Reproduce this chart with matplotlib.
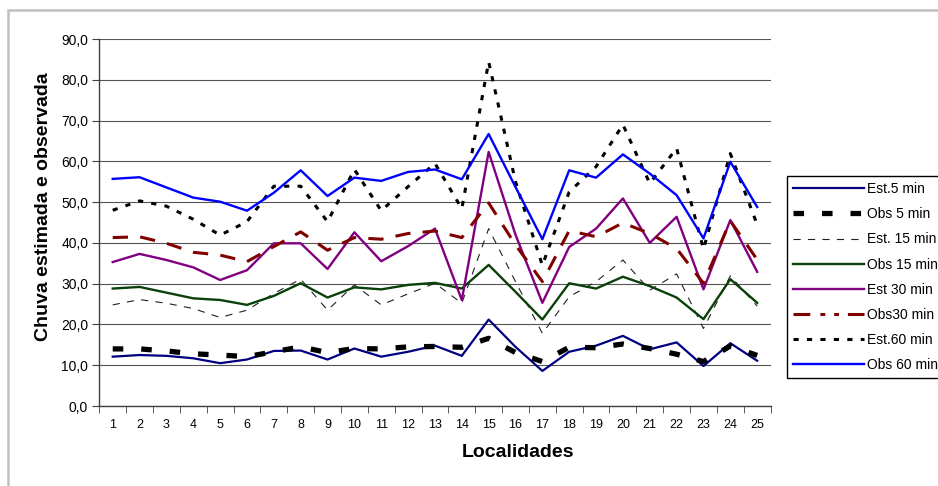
import matplotlib
matplotlib.use("Agg")
import matplotlib.pyplot as plt
from matplotlib.lines import Line2D
from matplotlib.patches import Rectangle
from matplotlib.ticker import FuncFormatter, MultipleLocator

plt.rcParams["font.family"] = ["Liberation Sans", "DejaVu Sans"]

# localidades 1..25
localidades = list(range(1, 26))

est_5 = [12.1, 12.5, 12.3, 11.7, 10.5, 11.4, 13.5, 13.6, 11.4, 14.1, 12.1, 13.3, 14.8,
         12.3, 21.2, 14.5, 8.6, 13.3, 14.8, 17.2, 13.9, 15.6, 9.8, 15.4, 11.1]
obs_5 = [14.0, 14.0, 13.5, 12.8, 12.5, 12.1, 13.3, 14.5, 13.1, 14.1, 14.0, 14.5, 14.6,
         14.4, 16.6, 13.1, 10.9, 14.4, 14.3, 15.2, 14.1, 12.7, 10.9, 14.7, 12.4]
est_15 = [24.8, 26.1, 25.2, 23.9, 21.7, 23.5, 27.6, 31.1, 23.5, 29.7, 24.8, 27.5, 30.1,
          25.2, 43.5, 30.5, 17.8, 26.8, 30.5, 35.8, 28.4, 32.4, 19.0, 31.9, 24.5]
obs_15 = [28.8, 29.2, 27.8, 26.4, 26.0, 24.8, 27.0, 30.1, 26.6, 29.1, 28.6, 29.7, 30.2,
          28.8, 34.6, 28.0, 21.2, 30.1, 28.8, 31.7, 29.4, 26.6, 21.3, 31.1, 25.3]
est_30 = [35.3, 37.3, 35.8, 34.0, 30.9, 33.3, 39.9, 39.9, 33.6, 42.6, 35.5, 39.2, 43.5,
          26.0, 62.3, 42.0, 25.3, 39.0, 43.5, 50.9, 40.0, 46.4, 28.6, 45.6, 32.9]
obs_30 = [41.3, 41.5, 39.9, 37.7, 37.0, 35.4, 39.1, 42.7, 38.2, 41.3, 40.9, 42.3, 42.9,
          41.3, 49.8, 39.5, 30.5, 43.0, 41.5, 44.9, 42.3, 38.6, 30.1, 45.4, 35.9]
est_60 = [48.0, 50.3, 49.0, 45.8, 41.9, 45.2, 53.9, 53.9, 45.2, 58.0, 47.9, 53.8, 59.5,
          48.4, 84.4, 55.0, 34.5, 52.5, 58.7, 69.0, 54.6, 63.2, 38.5, 61.9, 44.5]
obs_60 = [55.7, 56.1, 53.6, 51.1, 50.1, 47.9, 52.3, 57.8, 51.5, 56.0, 55.2, 57.4, 58.0,
          55.6, 66.7, 53.7, 40.9, 57.8, 56.0, 61.7, 57.0, 51.7, 41.1, 59.9, 48.8]

W, H = 938, 486
fig = plt.figure(figsize=(W / 100, H / 100), dpi=100)

# chart area frame (cut off at right/bottom like the original)
fig.patches.append(Rectangle((8 / W, -0.1), 1.2, 1 - 10 / H + 0.1, transform=fig.transFigure,
                             fill=False, edgecolor="#c0c0c0", linewidth=1.8))

ax = fig.add_axes([99.3 / W, 1 - 406 / H, (770.6 - 99.3) / W, (406 - 39) / H])

ax.plot(localidades, est_5, color="#000080", lw=1.6, label="Est.5 min")
ax.plot(localidades, obs_5, color="black", lw=3.8, dashes=(2.0, 3.4), label="Obs 5 min")
ax.plot(localidades, est_15, color="#202020", lw=0.8, dashes=(6.5, 6.5), label="Est. 15 min")
ax.plot(localidades, obs_15, color="#0a400a", lw=1.7, label="Obs 15 min")
ax.plot(localidades, est_30, color="#800080", lw=1.7, label="Est 30 min")
ax.plot(localidades, obs_30, color="#800000", lw=2.2, dashes=(5.0, 4.0), label="Obs30 min")
ax.plot(localidades, est_60, color="black", lw=2.2, dashes=(1.7, 2.7), label="Est.60 min")
ax.plot(localidades, obs_60, color="#0000ff", lw=1.7, label="Obs 60 min")

ax.set_xlim(0.5, 25.5)
ax.set_ylim(0, 90)
ax.yaxis.set_major_locator(MultipleLocator(10))
ax.yaxis.set_major_formatter(FuncFormatter(lambda v, p: f"{v:.1f}".replace(".", ",")))
ax.set_xticks(localidades)
ax.set_xticks([i + 0.5 for i in range(0, 26)], minor=True)
ax.tick_params(axis="x", which="major", length=0, labelsize=9, pad=9)
ax.tick_params(axis="x", which="minor", length=5, direction="out", color="#404040")
ax.tick_params(axis="y", which="major", length=5, direction="out", labelsize=10, pad=3,
               color="#404040")
ax.yaxis.grid(True, color="#555555", lw=0.8)
ax.set_axisbelow(True)
for s in ["top", "right"]:
    ax.spines[s].set_visible(False)
for s in ["left", "bottom"]:
    ax.spines[s].set_color("#404040")
    ax.spines[s].set_linewidth(1.0)

fig.text(43 / W, 1 - 207 / H, "Chuva estimada e observada", rotation=90, ha="center",
         va="center", fontsize=14, fontweight="bold")
fig.text(518 / W, 1 - 452 / H, "Localidades", ha="center", va="center", fontsize=14,
         fontweight="bold")

handles, labels = ax.get_legend_handles_labels()
handles[5] = Line2D([], [], color="#800000", lw=2.2, dashes=(5.5, 3.3, 1.6, 2.9, 1.6, 2.9))
leg = fig.legend(handles, labels, loc="upper left", bbox_to_anchor=(787 / W, 1 - 176 / H),
                 frameon=True, fancybox=False, edgecolor="black", framealpha=1,
                 fontsize=10, handlelength=5.1, handletextpad=0.2, labelspacing=0.8,
                 borderpad=0.45, borderaxespad=0)
leg.get_frame().set_linewidth(1.0)

fig.savefig("out.png", dpi=100)
